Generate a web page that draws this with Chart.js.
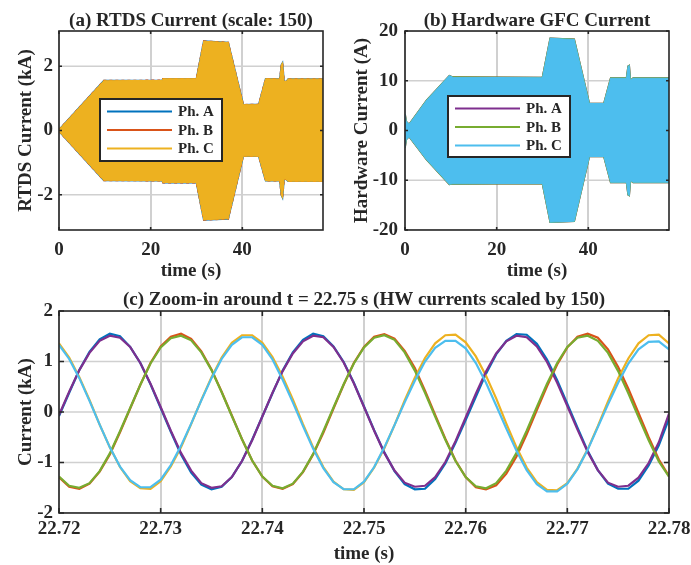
<!DOCTYPE html>
<html>
<head>
<meta charset="utf-8">
<script src="https://cdn.jsdelivr.net/npm/chart.js@4.4.1/dist/chart.umd.min.js"></script>
<style>
  body { margin: 0; background: #fff; width: 691px; height: 565px; position: relative; overflow: hidden; }
  canvas { position: absolute; display: block; }
</style>
</head>
<body>
<canvas id="chartA" width="345" height="285" style="left:0;top:0"></canvas>
<canvas id="chartB" width="346" height="285" style="left:345px;top:0"></canvas>
<canvas id="chartC" width="691" height="280" style="left:0;top:285px"></canvas>
<script>
const phaseNames = ['Ph. A', 'Ph. B', 'Ph. C'];

// (a) RTDS current band (kA): edges of the oscillation
const rtdsEnvTime  = [0, 9.8, 22.5, 22.7, 30.0, 31.6, 36.9, 40.2, 43.6, 45.1, 48.2, 48.55, 48.75, 49.1, 49.6, 50.0, 57.6];
const rtdsEnvUpper = [0.02, 1.55, 1.56, 1.61, 1.61, 2.78, 2.74, 0.80, 0.81, 1.61, 1.60, 2.05, 2.10, 1.52, 1.52, 1.60, 1.60];
const rtdsEnvLower = [-0.02, -1.55, -1.56, -1.62, -1.62, -2.78, -2.75, -0.79, -0.80, -1.56, -1.56, -2.02, -2.08, -1.50, -1.52, -1.58, -1.58];

// (b) hardware GFC current band (A)
const hwEnvTime  = [0, 0.25, 0.9, 4.7, 9.7, 10.4, 30.0, 31.7, 36.9, 40.2, 43.4, 44.9, 48.35, 48.7, 48.9, 49.15, 49.8, 57.6];
const hwEnvUpper = [3.3, 1.8, 1.2, 6.0, 11.0, 10.7, 10.6, 18.5, 18.3, 5.4, 5.4, 10.5, 10.5, 12.9, 13.0, 10.0, 10.5, 10.5];
const hwEnvLower = [-3.4, -1.8, -1.2, -5.8, -10.8, -10.7, -10.6, -18.4, -18.2, -5.2, -5.2, -10.4, -10.4, -12.9, -13.0, -10.0, -10.4, -10.4];

// (c) zoom-in samples (kA), HW scaled by 150
const zoomTime = [22.720, 22.721, 22.722, 22.723, 22.724, 22.725, 22.726, 22.727, 22.728, 22.729,
  22.730, 22.731, 22.732, 22.733, 22.734, 22.735, 22.736, 22.737, 22.738, 22.739,
  22.740, 22.741, 22.742, 22.743, 22.744, 22.745, 22.746, 22.747, 22.748, 22.749,
  22.750, 22.751, 22.752, 22.753, 22.754, 22.755, 22.756, 22.757, 22.758, 22.759,
  22.760, 22.761, 22.762, 22.763, 22.764, 22.765, 22.766, 22.767, 22.768, 22.769,
  22.770, 22.771, 22.772, 22.773, 22.774, 22.775, 22.776, 22.777, 22.778, 22.779, 22.780];
const rtdsA = [-0.08, 0.38, 0.83, 1.19, 1.44, 1.55, 1.50, 1.29, 0.97, 0.55, 0.08, -0.39, -0.84, -1.20, -1.44, -1.53, -1.48, -1.29, -0.97, -0.55,
  -0.09, 0.37, 0.82, 1.18, 1.43, 1.55, 1.50, 1.30, 0.99, 0.58, 0.11, -0.36, -0.80, -1.17, -1.43, -1.53, -1.52, -1.33, -1.02, -0.61,
  -0.16, 0.30, 0.76, 1.14, 1.41, 1.54, 1.53, 1.35, 1.04, 0.63, 0.16, -0.31, -0.77, -1.15, -1.42, -1.52, -1.52, -1.36, -1.06, -0.66, -0.13];
const rtdsB = [-1.29, -1.48, -1.52, -1.42, -1.18, -0.84, -0.40, 0.07, 0.54, 0.97, 1.30, 1.49, 1.55, 1.45, 1.20, 0.84, 0.40, -0.07, -0.54, -0.96,
  -1.28, -1.47, -1.52, -1.43, -1.19, -0.84, -0.41, 0.07, 0.54, 0.97, 1.29, 1.49, 1.54, 1.45, 1.21, 0.87, 0.42, -0.06, -0.53, -0.96,
  -1.29, -1.49, -1.53, -1.45, -1.22, -0.88, -0.44, 0.04, 0.51, 0.94, 1.28, 1.49, 1.55, 1.47, 1.24, 0.89, 0.46, -0.02, -0.50, -0.94, -1.27];
const rtdsC = [1.36, 1.08, 0.69, 0.24, -0.25, -0.70, -1.09, -1.37, -1.51, -1.52, -1.37, -1.08, -0.70, -0.24, 0.24, 0.69, 1.08, 1.37, 1.52, 1.52,
  1.37, 1.09, 0.70, 0.25, -0.24, -0.70, -1.09, -1.38, -1.53, -1.54, -1.39, -1.10, -0.72, -0.26, 0.23, 0.68, 1.07, 1.36, 1.52, 1.53,
  1.38, 1.10, 0.72, 0.27, -0.23, -0.70, -1.10, -1.39, -1.54, -1.55, -1.41, -1.12, -0.74, -0.28, 0.21, 0.67, 1.06, 1.36, 1.52, 1.53, 1.36];
const hwA = [-0.06, 0.40, 0.83, 1.17, 1.41, 1.51, 1.47, 1.29, 0.97, 0.56, 0.10, -0.37, -0.81, -1.16, -1.41, -1.50, -1.47, -1.29, -0.97, -0.56,
  -0.09, 0.38, 0.81, 1.16, 1.40, 1.51, 1.48, 1.29, 0.98, 0.57, 0.10, -0.37, -0.81, -1.16, -1.40, -1.48, -1.46, -1.29, -0.99, -0.58,
  -0.11, 0.36, 0.80, 1.16, 1.40, 1.51, 1.48, 1.30, 0.99, 0.58, 0.12, -0.35, -0.79, -1.15, -1.40, -1.48, -1.46, -1.30, -1.01, -0.60, -0.03];
const hwB = [-1.28, -1.46, -1.50, -1.41, -1.17, -0.82, -0.38, 0.08, 0.54, 0.96, 1.28, 1.46, 1.51, 1.42, 1.18, 0.83, 0.39, -0.08, -0.54, -0.96,
  -1.28, -1.46, -1.51, -1.42, -1.18, -0.83, -0.38, 0.09, 0.55, 0.96, 1.28, 1.47, 1.52, 1.43, 1.18, 0.82, 0.38, -0.09, -0.55, -0.97,
  -1.29, -1.47, -1.51, -1.41, -1.16, -0.81, -0.37, 0.10, 0.56, 0.97, 1.29, 1.47, 1.51, 1.41, 1.17, 0.81, 0.37, -0.10, -0.56, -0.98, -1.28];
const hwC = [1.33, 1.05, 0.67, 0.22, -0.25, -0.70, -1.08, -1.35, -1.49, -1.49, -1.34, -1.05, -0.67, -0.23, 0.23, 0.67, 1.05, 1.33, 1.48, 1.48,
  1.33, 1.04, 0.64, 0.19, -0.28, -0.73, -1.11, -1.39, -1.53, -1.53, -1.38, -1.09, -0.70, -0.26, 0.19, 0.62, 1.00, 1.27, 1.41, 1.41,
  1.26, 0.97, 0.58, 0.13, -0.33, -0.77, -1.15, -1.43, -1.57, -1.57, -1.42, -1.13, -0.75, -0.30, 0.15, 0.58, 0.96, 1.24, 1.39, 1.40, 1.24];

// tick values
const timeTicks = [0, 20, 40];
const rtdsTicks = [-2, 0, 2];
const hwTicks = [-20, -10, 0, 10, 20];
const zoomTimeTicks = [22.72, 22.73, 22.74, 22.75, 22.76, 22.77, 22.78];
const zoomCurrentTicks = [-2, -1, 0, 1, 2];

const rtdsColors = ['#0072BD', '#D95319', '#EDB120'];
const hwColors = ['#7E2F8E', '#77AC30', '#4DBEEE'];
const FONT = "'Liberation Serif', 'Times New Roman', serif";
const ink = '#262626';
const gridCol = '#d0d0d0';
const bold = (size, lh) => ({ family: FONT, size: size, weight: 'bold', lineHeight: lh || 1.2 });

// horizontal grid lines as bottom-most line datasets across the x range
function hGrid(yTicks, xmin, xmax) {
  return yTicks.map(v => ({
    label: 'grid',
    data: [{ x: xmin, y: v }, { x: xmax, y: v }],
    borderColor: gridCol,
    borderWidth: 1.6,
    pointRadius: 0,
    fill: false,
    order: 50
  }));
}

// MATLAB-like axes: vertical grid behind the data, box + inward ticks + legend on top
const matlabAxes = {
  id: 'matlabAxes',
  beforeDatasetsDraw(chart, args, opts) {
    const ctx = chart.ctx;
    const a = chart.chartArea;
    const x = chart.scales.x;
    ctx.save();
    ctx.fillStyle = gridCol;
    for (const v of opts.xt) {
      const px = Math.round(x.getPixelForValue(v));
      ctx.fillRect(px - 1, a.top, 2, a.bottom - a.top);
    }
    ctx.restore();
  },
  afterDatasetsDraw(chart, args, opts) {
    const { ctx, chartArea: a } = chart;
    const x = chart.scales.x, y = chart.scales.y;
    const len = opts.tickLen;
    ctx.save();
    ctx.strokeStyle = ink;
    ctx.lineWidth = 1.6;
    ctx.beginPath();
    opts.xt.forEach(v => {
      const px = x.getPixelForValue(v);
      ctx.moveTo(px, a.bottom); ctx.lineTo(px, a.bottom - len);
      ctx.moveTo(px, a.top); ctx.lineTo(px, a.top + len);
    });
    opts.yt.forEach(v => {
      const py = y.getPixelForValue(v);
      ctx.moveTo(a.left, py); ctx.lineTo(a.left + len, py);
      ctx.moveTo(a.right, py); ctx.lineTo(a.right - len, py);
    });
    ctx.stroke();
    ctx.strokeRect(a.left, a.top, a.right - a.left, a.bottom - a.top);

    if (opts.legend) {
      const L = opts.legend;
      const bx = a.left + L.dx, by = a.top + L.dy;
      ctx.fillStyle = '#fff';
      ctx.fillRect(bx, by, L.w, L.h);
      ctx.lineWidth = 2;
      ctx.strokeRect(bx, by, L.w, L.h);
      ctx.font = 'bold 15px ' + FONT;
      ctx.textBaseline = 'middle';
      ctx.textAlign = 'left';
      phaseNames.forEach((name, i) => {
        const ry = by + L.rows[i];
        ctx.strokeStyle = L.colors[i];
        ctx.lineWidth = 2;
        ctx.beginPath();
        ctx.moveTo(bx + 7, ry); ctx.lineTo(bx + 72, ry);
        ctx.stroke();
        ctx.fillStyle = ink;
        ctx.fillText(name, bx + 78, ry + 1);
      });
    }
    ctx.restore();
  }
};

function scalesFor(o) {
  return {
    x: {
      type: 'linear', min: o.xmin, max: o.xmax,
      afterBuildTicks: s => { s.ticks = o.xticks.map(v => ({ value: v })); },
      afterFit: s => { s.height = o.xh; s.paddingLeft = 0; s.paddingRight = 0; },
      grid: { display: false, drawTicks: false },
      border: { display: false },
      ticks: { color: ink, font: bold(19), padding: o.xpad, maxRotation: 0, autoSkip: false,
               callback: o.xfmt || (v => String(v)) },
      title: { display: true, text: 'time (s)', color: ink, font: bold(19), padding: { top: 0, bottom: o.xtpad } }
    },
    y: {
      type: 'linear', min: o.ymin, max: o.ymax,
      afterBuildTicks: s => { s.ticks = o.yticks.map(v => ({ value: v })); },
      afterFit: s => { s.width = o.yw; s.paddingTop = 0; s.paddingBottom = 0; },
      grid: { display: false, drawTicks: false },
      border: { display: false },
      ticks: { color: ink, font: bold(19), padding: o.ypad, autoSkip: false, callback: v => String(v) },
      title: { display: true, text: o.ylabel, color: ink, font: bold(19), padding: { top: o.ytpad, bottom: 0 } }
    }
  };
}

function bandSets(time, upper, lower, colors, dashB) {
  const pts = arr => arr.map((v, i) => ({ x: time[i], y: v }));
  const sets = [];
  // Ph. C first in the list so it is painted on top
  [2, 1, 0].forEach(i => {
    const line = {
      borderColor: colors[i],
      borderWidth: i === 2 ? 1.2 : 1.8,
      borderDash: (dashB && i === 1) ? [3, 3] : [],
      pointRadius: 0
    };
    sets.push(Object.assign({ label: phaseNames[i], data: pts(upper), fill: false }, line));
    sets.push(Object.assign({ label: phaseNames[i], data: pts(lower), fill: '-1', backgroundColor: colors[i] }, line));
  });
  return sets;
}

function baseOptions(title, tpad, scales, axesOpts) {
  return {
    responsive: false,
    animation: false,
    devicePixelRatio: 1,
    events: [],
    layout: { padding: { left: 0, right: 22, top: 0, bottom: 0 } },
    plugins: {
      legend: { display: false },
      tooltip: { enabled: false },
      title: { display: true, fullSize: false, text: title, color: ink, font: bold(19, 1.0), padding: tpad },
      matlabAxes: axesOpts
    },
    scales: scales
  };
}

new Chart(document.getElementById('chartA'), {
  type: 'line',
  data: { datasets: bandSets(rtdsEnvTime, rtdsEnvUpper, rtdsEnvLower, rtdsColors, true).concat(hGrid(rtdsTicks, 0, 57.6)) },
  options: baseOptions('(a) RTDS Current (scale: 150)', { top: 12, bottom: 0 },
    scalesFor({ xmin: 0, xmax: 57.6, xticks: timeTicks, xh: 55, xpad: 9, xtpad: 3,
                ymin: -3.1, ymax: 3.1, yticks: rtdsTicks, yw: 59, ypad: 6, ytpad: 15,
                ylabel: 'RTDS Current (kA)' }),
    { xt: timeTicks, yt: rtdsTicks, tickLen: 3,
      legend: { dx: 41, dy: 68, w: 122, h: 62, rows: [12.5, 31, 49.5], colors: rtdsColors } }),
  plugins: [matlabAxes]
});

new Chart(document.getElementById('chartB'), {
  type: 'line',
  data: { datasets: bandSets(hwEnvTime, hwEnvUpper, hwEnvLower, hwColors, false).concat(hGrid(hwTicks, 0, 57.6)) },
  options: baseOptions('(b) Hardware GFC Current', { top: 12, bottom: 0 },
    scalesFor({ xmin: 0, xmax: 57.6, xticks: timeTicks, xh: 55, xpad: 9, xtpad: 3,
                ymin: -20, ymax: 20, yticks: hwTicks, yw: 60, ypad: 7, ytpad: 6,
                ylabel: 'Hardware Current (A)' }),
    { xt: timeTicks, yt: hwTicks, tickLen: 3,
      legend: { dx: 43, dy: 65, w: 122, h: 61, rows: [12.5, 31, 49.5], colors: hwColors } }),
  plugins: [matlabAxes]
});

const zoomSeries = [
  { label: 'RTDS Ph. A', data: rtdsA, color: rtdsColors[0], order: 6 },
  { label: 'RTDS Ph. B', data: rtdsB, color: rtdsColors[1], order: 5 },
  { label: 'RTDS Ph. C', data: rtdsC, color: rtdsColors[2], order: 4 },
  { label: 'HW Ph. A', data: hwA, color: hwColors[0], order: 3 },
  { label: 'HW Ph. B', data: hwB, color: hwColors[1], order: 2 },
  { label: 'HW Ph. C', data: hwC, color: hwColors[2], order: 1 }
];

new Chart(document.getElementById('chartC'), {
  type: 'line',
  data: {
    datasets: zoomSeries.map(s => ({
      label: s.label,
      data: s.data.map((v, i) => ({ x: zoomTime[i], y: v })),
      borderColor: s.color,
      borderWidth: 2.2,
      pointRadius: 0,
      fill: false,
      order: s.order
    })).concat(hGrid(zoomCurrentTicks, 22.72, 22.78))
  },
  options: baseOptions('(c) Zoom-in around t = 22.75 s (HW currents scaled by 150)', { top: 6, bottom: 1 },
    scalesFor({ xmin: 22.72, xmax: 22.78, xticks: zoomTimeTicks, xh: 52, xpad: 5, xtpad: 0, xfmt: v => v.toFixed(2),
                ymin: -2, ymax: 2, yticks: zoomCurrentTicks, yw: 59, ypad: 6, ytpad: 15,
                ylabel: 'Current (kA)' }),
    { xt: zoomTimeTicks, yt: zoomCurrentTicks, tickLen: 5 }),
  plugins: [matlabAxes]
});
</script>
</body>
</html>
